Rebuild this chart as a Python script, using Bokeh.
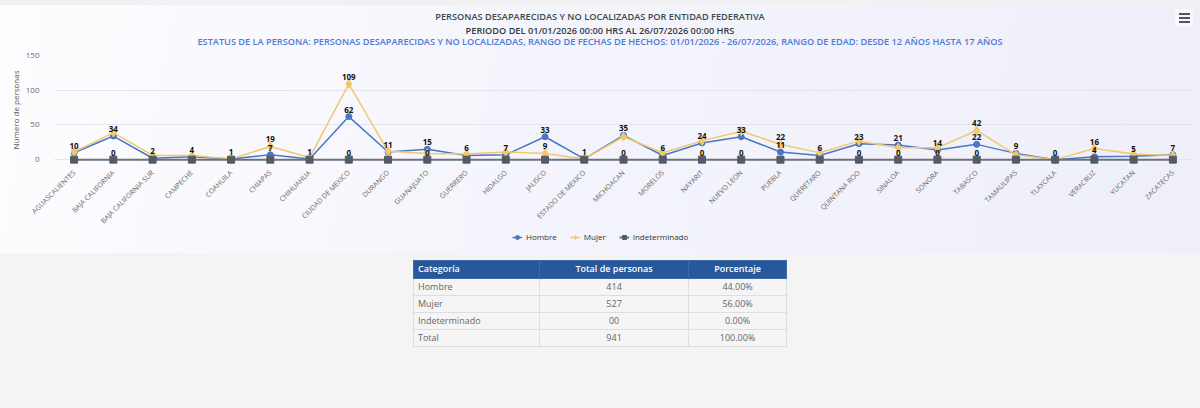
import math
from bokeh.plotting import figure
from bokeh.models import (FactorRange, Range1d, FixedTicker, Legend, LegendItem,
                          ColumnDataSource, Div)
from bokeh.layouts import column
from bokeh.core.properties import value
from bokeh.embed import file_html
from bokeh.resources import INLINE

# ---------------- data ----------------
estados = ["AGUASCALIENTES", "BAJA CALIFORNIA", "BAJA CALIFORNIA SUR", "CAMPECHE", "COAHUILA",
           "CHIAPAS", "CHIHUAHUA", "CIUDAD DE MEXICO", "DURANGO", "GUANAJUATO", "GUERRERO",
           "HIDALGO", "JALISCO", "ESTADO DE MEXICO", "MICHOACAN", "MORELOS", "NAYARIT",
           "NUEVO LEON", "PUEBLA", "QUERETARO", "QUINTANA ROO", "SINALOA", "SONORA", "TABASCO",
           "TAMAULIPAS", "TLAXCALA", "VERACRUZ", "YUCATAN", "ZACATECAS"]
hombre = [10, 34, 2, 4, 1, 7, 1, 62, 11, 15, 6, 7, 33, 1, 35, 6, 24, 33, 11, 6, 23, 21, 14, 22,
          9, 0, 4, 5, 7]
mujer = [11, 39, 6, 6, 1, 19, 3, 109, 12, 9, 8, 11, 9, 1, 33, 10, 27, 41, 22, 10, 27, 17, 17, 42,
         7, 0, 16, 8, 6]
indeterminado = [0, 0, 0, 0, 0, 0, 0, 0, 0, 0, 0, 0, 0, 0, 0, 0, 0, 0, 0, 0, 0, 0, 0, 0,
                 0, 0, 0, 0, 0]
y_ticks = [0, 50, 100, 150]

titulo_1 = "PERSONAS DESAPARECIDAS Y NO LOCALIZADAS POR ENTIDAD FEDERATIVA"
titulo_2 = "PERIODO DEL 01/01/2026 00:00 HRS AL 26/07/2026 00:00 HRS"
subtitulo = ("ESTATUS DE LA PERSONA: PERSONAS DESAPARECIDAS Y NO LOCALIZADAS, RANGO DE FECHAS DE "
             "HECHOS: 01/01/2026 - 26/07/2026, RANGO DE EDAD: DESDE 12 AÑOS HASTA 17 AÑOS")

tabla_encabezados = ["Categoría", "Total de personas", "Porcentaje"]
tabla_categorias = ["Hombre", "Mujer", "Indeterminado", "Total"]
tabla_totales = ["414", "527", "00", "941"]
tabla_porcentajes = ["44.00%", "56.00%", "0.00%", "100.00%"]

# ---------------- style ----------------
FONT = "Open Sans"
C_H = "#4a76c6"
C_M = "#f1c86e"
C_I = "#535b65"
C_I_LINE = "#6b727c"

# header with titles and menu button
header_html = f"""
<div style="position:relative;width:1200px;height:47px;font-family:'Open Sans';font-size:9.2px;
            font-weight:600;text-align:center;">
 <div style="position:absolute;left:0;top:10px;width:1200px;line-height:13px;color:#3a4a4c;">{titulo_1}</div>
 <div style="position:absolute;left:0;top:23.5px;width:1200px;line-height:13px;color:#33393b;">{titulo_2}</div>
 <div style="position:absolute;left:0;top:34.5px;width:1200px;line-height:13px;color:#4d7bd6;">{subtitulo}</div>
 <div style="position:absolute;left:1175px;top:9px;width:18px;height:18px;background:#f7f7fd;"></div>
 <div style="position:absolute;left:1179px;top:13px;width:11px;height:2px;background:#555;"></div>
 <div style="position:absolute;left:1179px;top:17px;width:11px;height:2px;background:#555;"></div>
 <div style="position:absolute;left:1179px;top:21px;width:11px;height:2px;background:#555;"></div>
</div>
"""
header = Div(text=header_html, width=1200, height=47, margin=0)

p = figure(x_range=FactorRange(*estados, range_padding=0), y_range=Range1d(-7, 150),
           width=1194, height=184, output_backend="svg", toolbar_location=None,
           min_border_left=39, min_border_right=8, min_border_top=8, min_border_bottom=67,
           margin=(0, 0, 0, 6))
p.background_fill_color = None
p.border_fill_color = None
p.outline_line_color = None

p.xgrid.grid_line_color = None
p.ygrid.grid_line_color = "#e4e4ec"
p.yaxis.ticker = FixedTicker(ticks=y_ticks)
p.yaxis.axis_line_color = None
p.yaxis.major_tick_line_color = None
p.yaxis.minor_tick_line_color = None
p.yaxis.major_label_text_font = FONT
p.yaxis.major_label_text_font_size = "8px"
p.yaxis.major_label_text_color = "#666666"
p.yaxis.major_label_standoff = 9
p.yaxis.axis_label = "Número de personas"
p.yaxis.axis_label_text_font = FONT
p.yaxis.axis_label_text_font_size = "8px"
p.yaxis.axis_label_text_font_style = "normal"
p.yaxis.axis_label_text_color = "#555555"
p.yaxis.axis_label_standoff = 2

p.xaxis.axis_line_color = None
p.xaxis.major_tick_line_color = None
p.xaxis.minor_tick_line_color = None
p.xaxis.major_label_orientation = math.pi / 4
p.xaxis.major_label_text_font = FONT
p.xaxis.major_label_text_font_size = "7px"
p.xaxis.major_label_text_color = "#666666"
p.xaxis.major_label_standoff = 1

series = [("Hombre", hombre, C_H, C_H, "circle", 6),
          ("Mujer", mujer, C_M, C_M, "diamond", 9),
          ("Indeterminado", indeterminado, C_I, C_I_LINE, "square", 7)]

for name, vals, color, lcolor, marker, size in series:
    src = ColumnDataSource(dict(x=estados, y=vals))
    lw = 2 if name == "Indeterminado" else 1.5
    p.line("x", "y", source=src, line_color=lcolor, line_width=lw)
    p.scatter("x", "y", source=src, marker=marker, size=size, fill_color=color,
              line_color=color)

# data labels: a label is hidden when it would collide with one already placed
lab_x, lab_y, lab_t = [], [], []
for i, est in enumerate(estados):
    placed = []
    for vals, gap in ((hombre, 11), (mujer, 11), (indeterminado, 12)):
        v = vals[i]
        if all(abs(v - q) >= gap for q in placed):
            placed.append(v)
            lab_x.append(est)
            lab_y.append(v)
            lab_t.append(str(v))
p.text(x="x", y="y", text="t", source=ColumnDataSource(dict(x=lab_x, y=lab_y, t=lab_t)),
       text_font=value(FONT), text_font_size="8px", text_font_style="bold",
       text_color="#111111", text_align="center", text_baseline="middle", y_offset=-7)

# legend strip (its own small figure so it is not clipped by the main plot frame);
# its renderers hold a single point placed outside the strip's visible range.
lg = figure(width=1200, height=12, output_backend="svg", toolbar_location=None,
            x_axis_type=None, y_axis_type=None, min_border=0, margin=(0, 0, 10, 0),
            x_range=Range1d(0, 1), y_range=Range1d(0, 1))
lg.background_fill_color = None
lg.border_fill_color = None
lg.outline_line_color = None
lg.grid.visible = False
items = []
for name, vals, color, lcolor, marker, size in series:
    hidden = ColumnDataSource(dict(x=[-5.0], y=[-5.0]))
    lw = 2 if name == "Indeterminado" else 1.5
    r1 = lg.line("x", "y", source=hidden, line_color=lcolor, line_width=lw)
    r2 = lg.scatter("x", "y", source=hidden, marker=marker, size=size, fill_color=color,
                    line_color=color)
    items.append(LegendItem(label=name, renderers=[r1, r2]))
legend = Legend(items=items, orientation="horizontal", location=(464, 1),
                label_text_font=FONT, label_text_font_size="8px", label_text_color="#333333",
                glyph_width=10, glyph_height=10, label_height=10, label_standoff=4,
                spacing=13, padding=0, margin=0, background_fill_alpha=0, border_line_alpha=0)
lg.add_layout(legend)

panel = column(header, p, lg, width=1200, height=253, spacing=0, margin=0,
               styles={"background": "linear-gradient(to bottom, #f1f1f3 0px, #f1f1f3 5px, transparent 5px),"
                                     "linear-gradient(100deg, #fdfdff 0%, #f4f4fc 45%, #efeffa 100%)"})

# ---------------- table ----------------
rows_html = ""
for cat, tot, pct in zip(tabla_categorias, tabla_totales, tabla_porcentajes):
    rows_html += ("<tr>"
                  f"<td style='text-align:left;padding-left:4px'>{cat}</td>"
                  f"<td>{tot}</td><td>{pct}</td></tr>")
hdr = (f"<th style='text-align:left;padding-left:4px;width:125px'>{tabla_encabezados[0]}</th>"
       f"<th style='width:148px'>{tabla_encabezados[1]}</th>"
       f"<th style='width:97px'>{tabla_encabezados[2]}</th>")
html = f"""
<style>
 .tb {{border-collapse:collapse;width:374px;margin:0;font-family:'Open Sans';
       font-size:9px;color:#666;}}
 .tb th {{background:#28579a;color:#fff;font-weight:600;height:18px;padding:0;
          border:1px solid #3d6aa8;text-align:center;}}
 .tb td {{background:#f5f5f5;height:17px;padding:0;border:1px solid #dedede;text-align:center;}}
</style>
<table class='tb'><tr>{hdr}</tr>{rows_html}</table>
"""
div = Div(text=html, width=374, height=148, margin=(7, 0, 0, 413))

root = column(panel, div, width=1200, height=408, spacing=0,
              styles={"background": "#f4f4f4"})
open("out.html", "w").write(file_html(root, INLINE))
